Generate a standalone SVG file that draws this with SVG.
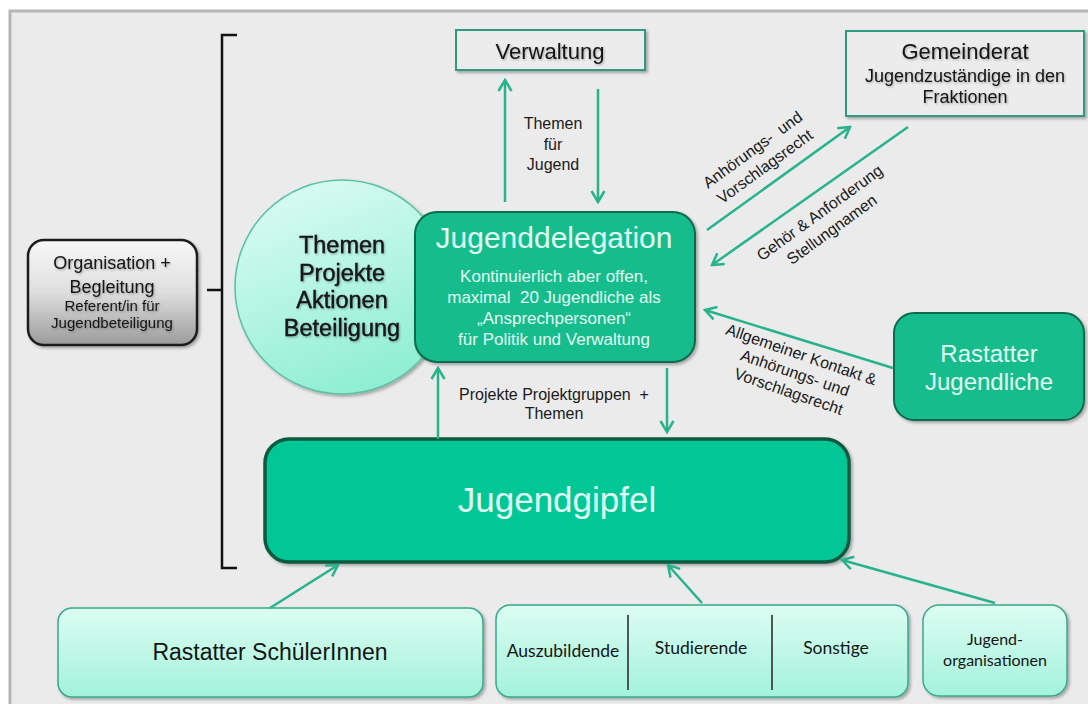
<svg xmlns="http://www.w3.org/2000/svg" width="1088" height="704" viewBox="0 0 1088 704">
<defs>
<style>
.ar{font-family:"Liberation Sans",Arial,sans-serif;text-anchor:middle}
.cal{font-family:Lato,"Open Sans",sans-serif;text-anchor:middle;fill:#151515}
.dk{fill:#141414}
.lt{fill:#e2fff3}
.ts{filter:url(#tsh)}
.conn line{stroke:#27b38b;stroke-width:2.5;fill:none;marker-end:url(#ah)}
.lbl{font-family:"Liberation Sans",Arial,sans-serif;font-size:16px;fill:#1a1a1a;text-anchor:middle}
.light{fill:url(#gLight);stroke:#3aa88a;stroke-width:1.5}
.outline{fill:#ececec;stroke:#2e9b7b;stroke-width:2}
.green{fill:#14bc8c;stroke:#0d6a4d;stroke-width:2}
.pre{white-space:pre}
</style>
<linearGradient id="gLight" x1="0" y1="0" x2="0" y2="1">
<stop offset="0" stop-color="#dcfdf2"/>
<stop offset="1" stop-color="#a3f2da"/>
</linearGradient>
<linearGradient id="gGray" x1="0" y1="0" x2="0" y2="1">
<stop offset="0" stop-color="#f8f8f8"/>
<stop offset="0.5" stop-color="#dedede"/>
<stop offset="1" stop-color="#9b9b9b"/>
</linearGradient>
<linearGradient id="gCircle" x1="0.2" y1="0" x2="0.6" y2="1">
<stop offset="0" stop-color="#dbfcf2"/>
<stop offset="1" stop-color="#8eeed2"/>
</linearGradient>
<filter id="sh" x="-10%" y="-10%" width="130%" height="140%">
<feDropShadow dx="2" dy="2" stdDeviation="1.5" flood-color="#000" flood-opacity="0.3"/>
</filter>
<filter id="tsh" x="-5%" y="-20%" width="115%" height="150%">
<feDropShadow dx="1" dy="1.2" stdDeviation="0.8" flood-color="#000" flood-opacity="0.3"/>
</filter>
<marker id="ah" viewBox="0 0 16 16" refX="14" refY="8" markerWidth="16" markerHeight="16" markerUnits="userSpaceOnUse" orient="auto">
<path d="M3,1.5 L14,8 L3,14.5" fill="none" stroke="#27b38b" stroke-width="2.5"/>
</marker>
</defs>

<rect x="0" y="0" width="1088" height="704" fill="#ffffff"/>
<rect x="10" y="11" width="1090" height="700" fill="#ebebeb" stroke="#b5b5b5" stroke-width="3"/>

<g id="klammer">
<path d="M237,35 H222 V568 H237 M207,290 H222" fill="none" stroke="#111" stroke-width="2.5"/>
</g>

<g id="organisation">
<rect x="28" y="240" width="169" height="105" rx="16" fill="url(#gGray)" stroke="#1b1b1b" stroke-width="2.5" filter="url(#sh)"/>
<text class="ar dk ts" x="112" y="269" font-size="18">Organisation +</text>
<text class="ar dk ts" x="112" y="293" font-size="18">Begleitung</text>
<text class="ar dk ts" x="112" y="311" font-size="15">Referent/in für</text>
<text class="ar dk ts" x="112" y="328" font-size="15">Jugendbeteiligung</text>
</g>

<g id="themen-kreis">
<circle cx="342" cy="287" r="107" fill="url(#gCircle)" stroke="#5cc0a2" stroke-width="1.5" filter="url(#sh)"/>
<text class="ar dk ts" x="342" y="253" font-size="23.5" stroke="#141414" stroke-width="0.4">Themen</text>
<text class="ar dk ts" x="342" y="281" font-size="23.5" stroke="#141414" stroke-width="0.4">Projekte</text>
<text class="ar dk ts" x="342" y="308" font-size="23.5" stroke="#141414" stroke-width="0.4">Aktionen</text>
<text class="ar dk ts" x="342" y="336" font-size="23.5" stroke="#141414" stroke-width="0.4">Beteiligung</text>
</g>

<g id="verwaltung">
<rect class="outline" x="456" y="30" width="189" height="40" filter="url(#sh)"/>
<text class="ar dk ts" x="550" y="59" font-size="22">Verwaltung</text>
</g>

<g id="gemeinderat">
<rect class="outline" x="846" y="31" width="238" height="85" filter="url(#sh)"/>
<text class="ar dk ts" x="965" y="59" font-size="22">Gemeinderat</text>
<text class="ar dk ts" x="965" y="82" font-size="18">Jugendzuständige in den</text>
<text class="ar dk ts" x="965" y="103" font-size="18">Fraktionen</text>
</g>

<g id="jugenddelegation">
<rect class="green" x="415" y="212" width="280" height="150" rx="22" filter="url(#sh)"/>
<text class="ar lt" x="554" y="248" font-size="30">Jugenddelegation</text>
<text class="ar lt" x="554" y="282" font-size="17">Kontinuierlich aber offen,</text>
<text class="ar lt pre" x="554" y="303" font-size="17">maximal  20 Jugendliche als</text>
<text class="ar lt" x="554" y="324" font-size="17">„Ansprechpersonen“</text>
<text class="ar lt" x="554" y="345" font-size="17">für Politik und Verwaltung</text>
</g>

<g id="rastatter-jugendliche">
<rect class="green" x="894" y="313" width="190" height="107" rx="20" fill="#10c08f" filter="url(#sh)"/>
<text class="ar lt" x="989" y="362" font-size="24">Rastatter</text>
<text class="ar lt" x="989" y="390" font-size="24">Jugendliche</text>
</g>

<g id="jugendgipfel">
<rect x="265" y="439" width="584" height="123" rx="24" fill="#03c795" stroke="#0b5a41" stroke-width="3.5" filter="url(#sh)"/>
<text class="ar lt" x="557" y="512" font-size="35">Jugendgipfel</text>
</g>

<g id="schuelerinnen">
<rect class="light" x="58" y="608" width="425" height="89" rx="14" filter="url(#sh)"/>
<text class="ar dk" x="270" y="660" font-size="23">Rastatter SchülerInnen</text>
</g>

<g id="auszubildende-studierende-sonstige">
<rect class="light" x="496" y="605" width="412" height="92" rx="14" filter="url(#sh)"/>
<line x1="628" y1="615" x2="628" y2="690" stroke="#222" stroke-width="1.5"/>
<line x1="772" y1="615" x2="772" y2="690" stroke="#222" stroke-width="1.5"/>
<text class="cal" x="563" y="657" font-size="17.5">Auszubildende</text>
<text class="cal" x="701" y="654" font-size="17.5">Studierende</text>
<text class="cal" x="836" y="654" font-size="17.5">Sonstige</text>
</g>

<g id="jugendorganisationen">
<rect class="light" x="923" y="605" width="144" height="91" rx="16" filter="url(#sh)"/>
<text class="cal" x="995" y="645" font-size="16">Jugend-</text>
<text class="cal" x="995" y="666" font-size="16">organisationen</text>
</g>

<g id="connectors" class="conn">
<line x1="505" y1="202" x2="505" y2="80"/>
<line x1="598" y1="89" x2="598" y2="202"/>
<line x1="707" y1="230" x2="850" y2="127"/>
<line x1="908" y1="127" x2="712" y2="265"/>
<line x1="893" y1="368" x2="705" y2="310"/>
<line x1="438" y1="439" x2="438" y2="368"/>
<line x1="667" y1="368" x2="667" y2="432"/>
<line x1="270" y1="608" x2="338" y2="565"/>
<line x1="702" y1="603" x2="668" y2="565"/>
<line x1="995" y1="603" x2="842" y2="560"/>
<text class="lbl" x="553" y="129" font-size="15.5">Themen</text>
<text class="lbl" x="553" y="150" font-size="15.5">für</text>
<text class="lbl" x="553" y="170" font-size="15.5">Jugend</text>
<text class="lbl pre" x="554" y="400">Projekte Projektgruppen  +</text>
<text class="lbl" x="554" y="419">Themen</text>
<g transform="translate(759,158.5) rotate(-36)">
<text class="lbl pre" x="0" y="-5.4">Anhörungs-  und</text>
<text class="lbl" x="0" y="15.4">Vorschlagsrecht</text>
</g>
<g transform="translate(826,221.5) rotate(-36)">
<text class="lbl" x="0" y="-5.4">Gehör &amp; Anforderung</text>
<text class="lbl" x="0" y="15.4">Stellungnamen</text>
</g>
<g transform="translate(795,373) rotate(19)">
<text class="lbl" x="0" y="-14">Allgemeiner Kontakt &amp;</text>
<text class="lbl" x="0" y="5.5">Anhörungs- und</text>
<text class="lbl" x="0" y="25">Vorschlagsrecht</text>
</g>
</g>
</svg>
